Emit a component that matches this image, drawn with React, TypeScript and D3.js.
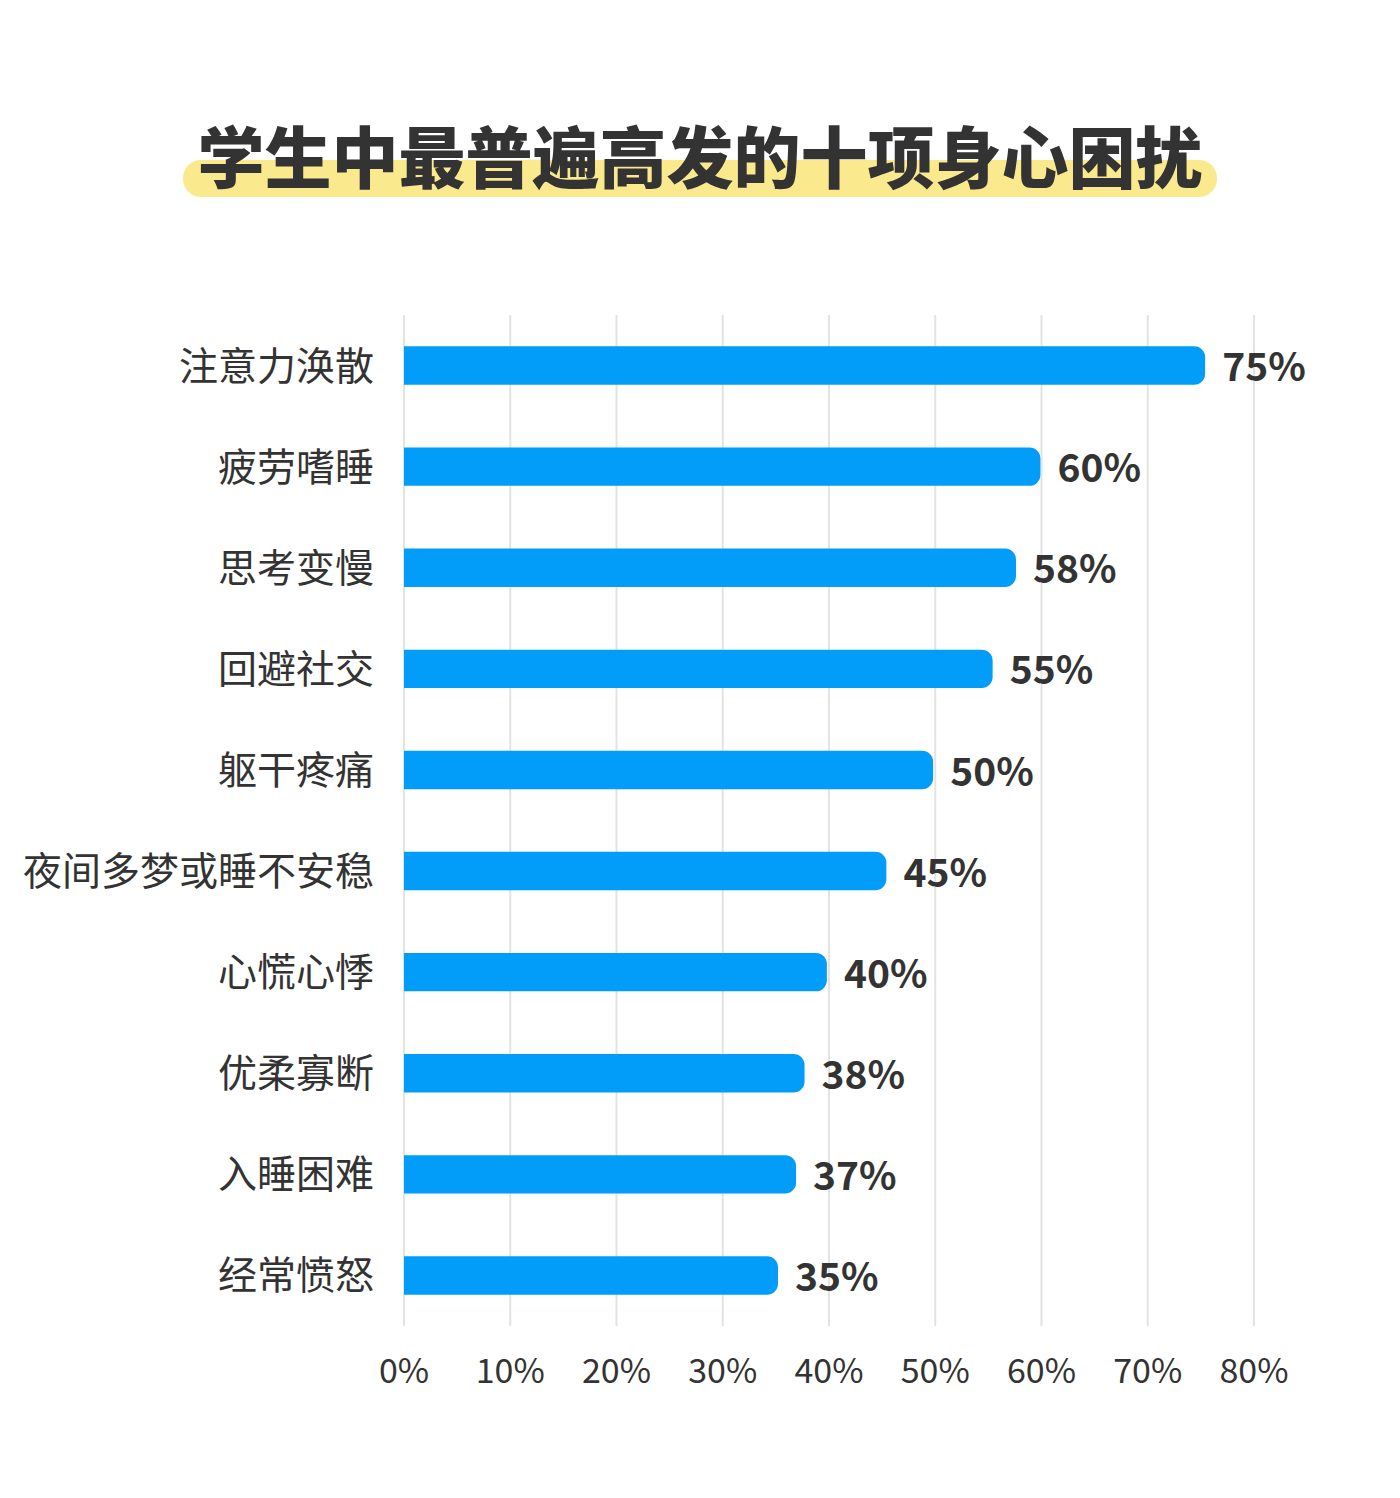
import { useEffect, useRef } from 'react';
import * as d3 from 'd3';

const categories = ['注意力涣散', '疲劳嗜睡', '思考变慢', '回避社交', '躯干疼痛', '夜间多梦或睡不安稳', '心慌心悸', '优柔寡断', '入睡困难', '经常愤怒'];
// bar lengths; labels show the rounded value
const values = [75.4, 59.9, 57.6, 55.4, 49.8, 45.4, 39.8, 37.7, 36.9, 35.2];
const tickValues = [0, 10, 20, 30, 40, 50, 60, 70, 80];
const title = '学生中最普遍高发的十项身心困扰';

const FONT = '"Noto Sans CJK SC", "Noto Sans", sans-serif';

export default function App() {
  const svgRef = useRef<SVGSVGElement>(null);

  useEffect(() => {
    const svg = d3.select(svgRef.current);
    svg.selectAll('*').remove();

    const W = 1400;
    const H = 1498;
    const left = 404;
    const right = 1254;
    const top = 315;
    const bottom = 1326;

    svg.append('rect').attr('width', W).attr('height', H).attr('fill', '#fff');

    // title with highlighter strip
    svg
      .append('rect')
      .attr('x', 183)
      .attr('y', 160)
      .attr('width', 1034)
      .attr('height', 37)
      .attr('rx', 18)
      .attr('fill', '#fbe98e');
    svg
      .append('text')
      .attr('x', 700)
      .attr('y', 183)
      .attr('text-anchor', 'middle')
      .attr('font-family', FONT)
      .attr('font-weight', 900)
      .attr('font-size', 67)
      .attr('fill', '#333')
      .text(title);

    const x = d3.scaleLinear().domain([0, 80]).range([left, right]);
    const y = d3.scaleBand<string>().domain(categories).range([top, bottom]).paddingInner(0.62).paddingOuter(0.31);

    // gridlines
    svg
      .append('g')
      .selectAll('line')
      .data(tickValues)
      .enter()
      .append('line')
      .attr('x1', d => x(d))
      .attr('x2', d => x(d))
      .attr('y1', top)
      .attr('y2', bottom)
      .attr('stroke', '#e3e3e3')
      .attr('stroke-width', 2);

    // tick labels
    svg
      .append('g')
      .selectAll('text')
      .data(tickValues)
      .enter()
      .append('text')
      .attr('x', d => x(d))
      .attr('y', 1383)
      .attr('text-anchor', 'middle')
      .attr('font-family', FONT)
      .attr('font-size', 34)
      .attr('fill', '#333')
      .text(d => `${d}%`);

    const r = 11;
    const barPath = (v: number, cat: string) => {
      const x0 = x(0);
      const x1 = x(v);
      const y0 = y(cat)!;
      const h = y.bandwidth();
      return `M${x0},${y0}H${x1 - r}A${r},${r} 0 0 1 ${x1},${y0 + r}V${y0 + h - r}A${r},${r} 0 0 1 ${x1 - r},${y0 + h}H${x0}Z`;
    };

    const rows = svg
      .append('g')
      .selectAll('g')
      .data(categories)
      .enter()
      .append('g');

    rows
      .append('path')
      .attr('d', (d, i) => barPath(values[i], d))
      .attr('fill', '#029df8');

    rows
      .append('text')
      .attr('x', 374)
      .attr('y', d => y(d)! + y.bandwidth() / 2)
      .attr('dy', '0.36em')
      .attr('text-anchor', 'end')
      .attr('font-family', FONT)
      .attr('font-size', 39)
      .attr('fill', '#333')
      .text(d => d);

    rows
      .append('text')
      .attr('x', (d, i) => x(values[i]) + 17)
      .attr('y', d => y(d)! + y.bandwidth() / 2)
      .attr('dy', '0.4em')
      .attr('font-family', FONT)
      .attr('font-weight', 700)
      .attr('font-size', 39)
      .attr('fill', '#333')
      .text((d, i) => `${Math.round(values[i])}%`);
  }, []);

  return <svg ref={svgRef} width={1400} height={1498} style={{ display: 'block', margin: '-8px' }} />;
}
